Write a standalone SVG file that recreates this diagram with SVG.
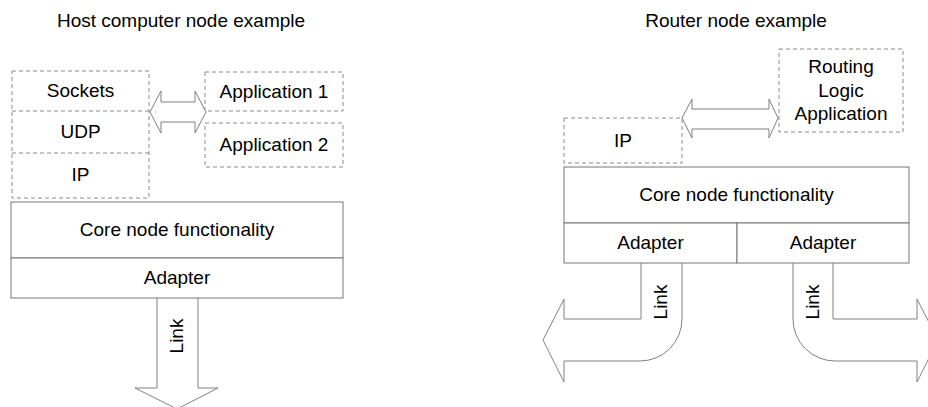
<svg xmlns="http://www.w3.org/2000/svg" width="928" height="407" viewBox="0 0 928 407">
<style>
text{font-family:"Liberation Sans",Arial,sans-serif;font-size:19px;fill:#000;text-anchor:middle}
.d{fill:#fff;stroke:#8a8a8a;stroke-width:1;stroke-dasharray:4,3}
.s{fill:#fff;stroke:#777;stroke-width:1}
.a{fill:#fff;stroke:#808080;stroke-width:1}
</style>
<rect width="928" height="407" fill="#fff"/>
<text id="title-host" x="181" y="27">Host computer node example</text>
<text id="title-router" x="736" y="27">Router node example</text>

<g id="connectors">
<path class="a" d="M150,112 L161,91 V102 H195 V91 L206,112 L195,133 V122 H161 V133 Z"/>
<path class="a" d="M682,118 L692,99 V109 H769 V99 L778,118 L769,138 V129 H692 V138 Z"/>
<path class="a" d="M157,298 V388 H135 L177,409 L218,388 H198 V298"/>
<path class="a" d="M641,263 V319 H564 V299 L543,340 L564,382 V361 H640 A42,42 0 0 0 682,319 V263"/>
<path class="a" d="M833,263 V319 H917 V299 L938,340 L917,382 V361 H835 A42,42 0 0 1 793,319 V263"/>
<text transform="translate(183,336) rotate(-90)">Link</text>
<text transform="translate(667,302) rotate(-90)">Link</text>
<text transform="translate(819,302) rotate(-90)">Link</text>
</g>

<g id="host-stack">
<rect class="d" x="12" y="71" width="137" height="127"/>
<line class="d" x1="12" y1="111" x2="149" y2="111"/>
<line class="d" x1="12" y1="153" x2="149" y2="153"/>
<text x="80.5" y="97">Sockets</text>
<text x="80.5" y="138">UDP</text>
<text x="80.5" y="181">IP</text>
</g>
<g id="host-app1">
<rect class="d" x="205" y="72" width="138" height="39"/>
<text x="274" y="98">Application 1</text>
</g>
<g id="host-app2">
<rect class="d" x="205" y="123" width="138" height="44"/>
<text x="274" y="151">Application 2</text>
</g>
<g id="host-core">
<rect class="s" x="11" y="202" width="332" height="56"/>
<text x="177" y="236">Core node functionality</text>
</g>
<g id="host-adapter">
<rect class="s" x="11" y="258" width="332" height="40"/>
<text x="177" y="284">Adapter</text>
</g>

<g id="router-ip">
<rect class="d" x="564" y="118" width="118" height="45"/>
<text x="623" y="147">IP</text>
</g>
<g id="router-app">
<rect class="d" x="779" y="49" width="124" height="83"/>
<text x="841" y="73">Routing</text>
<text x="841" y="97">Logic</text>
<text x="841" y="120">Application</text>
</g>
<g id="router-core">
<rect class="s" x="564" y="167" width="345" height="56"/>
<text x="736.5" y="201">Core node functionality</text>
</g>
<g id="router-adapter1">
<rect class="s" x="564" y="223" width="173" height="40"/>
<text x="650.5" y="249">Adapter</text>
</g>
<g id="router-adapter2">
<rect class="s" x="737" y="223" width="172" height="40"/>
<text x="823" y="249">Adapter</text>
</g>
</svg>
